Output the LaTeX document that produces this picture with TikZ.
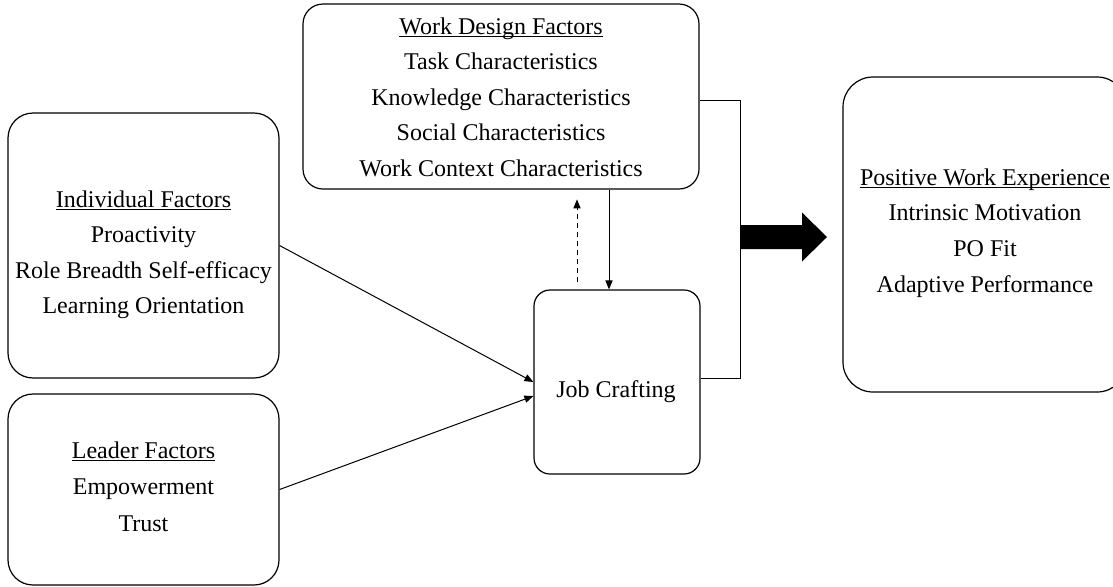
\documentclass[tikz,border=0pt]{standalone}
\usepackage{fontspec}
\setmainfont{Liberation Serif}
\usetikzlibrary{arrows.meta, fit}

% underlined heading, rule kept just under the baseline
\newcommand{\headline}[1]{\underline{\smash{#1}}}

\tikzset{
  box/.style={draw, line width=0.6pt, inner sep=0pt, rounded corners=#1},
  box/.default=12pt,
  txt/.style={anchor=base, inner sep=0pt, font=\fontsize{12}{14}\selectfont},
  arr/.style={-{Triangle[length=4.5pt,width=3.6pt]}, line width=0.5pt}
}

\begin{document}
\begin{tikzpicture}[x=0.5pt, y=-0.5pt]
\useasboundingbox (0,0) rectangle (1113,586);
\clip (0,0) rectangle (1113,586);

% Boxes
\node[box=12.5pt, fit={(8,113) (279,378)}] (ind) {};
\node[box=12.5pt, fit={(8,394) (279,585)}] (lead) {};
\node[box=10pt, fit={(303,4) (699,189)}] (wd) {};
\node[box=8pt, fit={(534,290) (700,474)}] (jc) {};
\node[box=15pt, fit={(843,77) (1127,392)}] (pwe) {};

% Box texts
\foreach \t [count=\i from 0] in {\headline{Individual Factors}, Proactivity,
    Role Breadth Self-efficacy, Learning Orientation}
  \node[txt] (ind-t\i) at (143.5, 207+35.5*\i) {\t};

\foreach \t [count=\i from 0] in {\headline{Leader Factors}, Empowerment, Trust}
  \node[txt] (lead-t\i) at (143.5, 458+36.5*\i) {\t};

\foreach \t [count=\i from 0] in {\headline{Work Design Factors}, Task Characteristics,
    Knowledge Characteristics, Social Characteristics, Work Context Characteristics}
  \node[txt] (wd-t\i) at (501, 34+35.5*\i) {\t};

\node[txt] (jc-t) at (616, 397) {Job Crafting};

\foreach \t [count=\i from 0] in {\headline{Positive Work Experience}, Intrinsic Motivation,
    PO Fit, Adaptive Performance}
  \node[txt] (pwe-t\i) at (985, 185+35.7*\i) {\t};

% Antecedents into job crafting
\draw[arr] (ind.east) -- (jc.west);
\draw[arr] (lead.east) -- ([yshift=-7pt]jc.west);

% Work design <-> job crafting
\draw[arr] ([xshift=-4pt]jc.north |- wd.south) -- ([xshift=-4pt]jc.north);
\draw[arr, dash pattern=on 2.5pt off 2pt] ([xshift=-20pt, yshift=3.5pt]jc.north)
  -- ([xshift=-20pt, yshift=45pt]jc.north);

% Bracket joining both boxes
\coordinate (brtop) at (740,100);
\coordinate (brbot) at (740,378);
\coordinate (brmid) at (740,237);
\draw[line width=0.5pt] (wd.east |- brtop) -- (brtop) -- (brbot) -- (jc.east |- brbot);

% Block arrow to outcomes
\fill (brmid) ++(0,-12) -- ++(62,0) -- ++(0,-12.5) -- ++(25,24.5)
  -- ++(-25,24.5) -- ++(0,-12.5) -- ++(-62,0) -- cycle;
\end{tikzpicture}
\end{document}
